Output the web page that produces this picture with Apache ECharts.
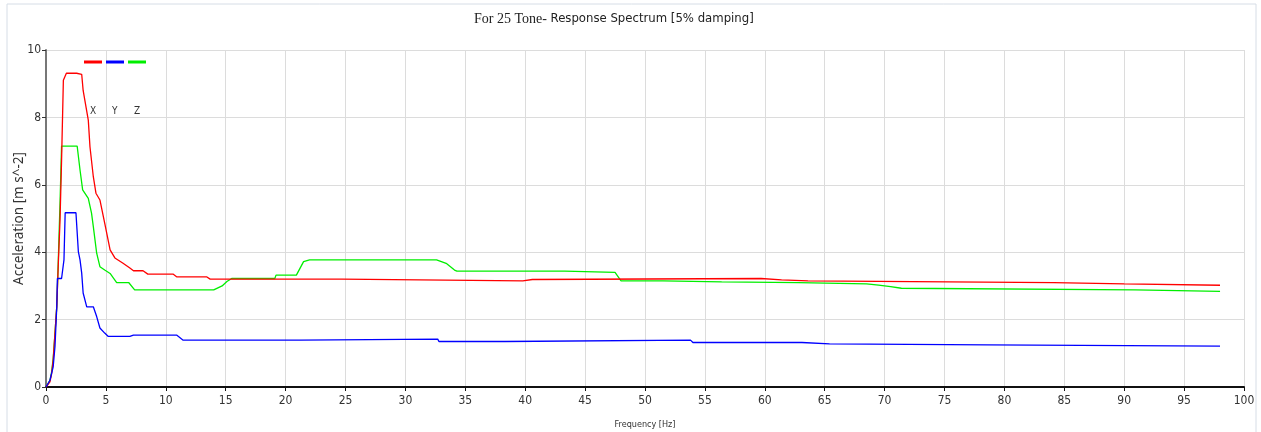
<!DOCTYPE html>
<html>
<head>
<meta charset="utf-8">
<script src="https://cdn.jsdelivr.net/npm/echarts@6/dist/echarts.min.js"></script>
<style>html,body{margin:0;padding:0;background:#fff}#c{width:1261px;height:432px}</style>
</head>
<body>
<div id="c"></div>
<script>
var titleText = 'For 25 Tone- Response Spectrum [5% damping]';
var seriesNames = ['X', 'Y', 'Z'];
var xTicks = [0,5,10,15,20,25,30,35,40,45,50,55,60,65,70,75,80,85,90,95,100];

var freqX = [0,0.33,0.47,0.6,0.75,0.9,1.03,1.17,1.3,1.45,1.7,2.56,2.6,2.98,3.1,3.53,3.67,3.95,4.17,4.5,4.9,5.35,5.75,6.4,7.0,7.3,8.1,8.5,10.6,10.9,13.4,13.7,24.7,24.8,39.8,39.9,40.6,40.7,59.7,59.8,61.4,61.5,63.6,63.7,84.1,84.2,90.0,90.1,98.0];
var accX  = [0,0.15,0.4,0.8,1.6,2.4,3.67,4.95,6.74,9.1,9.31,9.31,9.28,9.28,8.8,7.92,7.13,6.24,5.75,5.55,4.86,4.07,3.83,3.68,3.53,3.45,3.45,3.35,3.35,3.27,3.27,3.2,3.2,3.15,3.15,3.19,3.19,3.22,3.22,3.18,3.18,3.15,3.15,3.1,3.1,3.06,3.06,3.02,3.02];

var freqY = [0,0.05,0.33,0.6,0.75,0.9,0.95,1.3,1.5,1.6,2.5,2.7,2.84,2.98,3.1,3.4,3.95,4.23,4.5,4.9,5.2,7.0,7.3,10.9,11.45,21.2,21.3,32.7,32.8,38.3,38.4,53.8,54.0,63.1,63.2,65.4,65.5,78.6,78.7,98.0];
var accY  = [0,0,0.2,0.6,1.2,2.38,3.22,3.22,3.77,5.17,5.17,4.02,3.77,3.38,2.79,2.38,2.38,2.09,1.75,1.6,1.5,1.5,1.54,1.54,1.39,1.39,1.42,1.42,1.35,1.35,1.39,1.39,1.32,1.32,1.28,1.28,1.25,1.25,1.21,1.21];

var freqZ = [0,0.33,0.47,0.6,0.75,0.9,1.03,1.17,1.3,2.6,2.84,3.06,3.53,3.8,3.95,4.23,4.5,4.9,5.35,5.9,6.9,7.4,14.0,14.7,15.1,15.5,19.1,19.2,20.9,21.5,22.0,32.6,33.4,34.1,34.3,43.3,43.4,47.5,48.0,51.5,51.6,56.4,56.5,62.8,62.9,68.5,68.6,69.5,69.6,70.5,70.6,71.4,71.5,90.9,91.0,98.0];
var accZ  = [0,0.2,0.45,0.85,1.6,2.4,3.8,5.45,7.15,7.15,6.44,5.85,5.6,5.16,4.76,3.97,3.57,3.47,3.37,3.1,3.1,2.88,2.88,3.0,3.13,3.22,3.22,3.32,3.32,3.72,3.77,3.77,3.67,3.47,3.44,3.44,3.4,3.4,3.15,3.15,3.12,3.12,3.1,3.1,3.06,3.06,3.02,3.02,2.98,2.98,2.93,2.93,2.88,2.88,2.84,2.84];

function zip(a, b) { return a.map(function (v, i) { return [v, b[i]]; }); }

var colors = ['#ff0000', '#0000ff', '#00ee00'];
var sansCond = '"DejaVu Sans Condensed", "DejaVu Sans", sans-serif';

var chart = echarts.init(document.getElementById('c'), null, {renderer: 'canvas'});
chart.setOption({
  animation: false,
  backgroundColor: '#ffffff',
  title: {
    text: '{a|For 25 Tone-}{b| Response Spectrum [5% damping]}',
    left: 469, top: 7,
    textStyle: {
      fontWeight: 'normal',
      rich: {
        a: {fontFamily: '"Liberation Serif", serif', fontSize: 14, fontWeight: 'normal', color: '#222'},
        b: {fontFamily: sansCond, fontSize: 13, fontWeight: 'normal', color: '#222'}
      }
    }
  },
  legend: {
    left: 84, top: 60.5, padding: 0,
    icon: 'rect', itemWidth: 18, itemHeight: 3, itemGap: 4,
    data: seriesNames,
    formatter: function () { return ''; },
    textStyle: {fontSize: 1}
  },
  graphic: [
    {type: 'rect', shape: {x: 7, y: 4, width: 1249, height: 440}, style: {fill: 'none', stroke: '#d6dde6', lineWidth: 1}, silent: true, z: -10},
    {type: 'text', left: 90, top: 106, style: {text: seriesNames[0], font: '10px ' + sansCond, fill: '#333'}},
    {type: 'text', left: 112, top: 106, style: {text: seriesNames[1], font: '10px ' + sansCond, fill: '#333'}},
    {type: 'text', left: 134, top: 106, style: {text: seriesNames[2], font: '10px ' + sansCond, fill: '#333'}}
  ],
  grid: {left: 46, right: 17, top: 50, bottom: 45, containLabel: false, outerBoundsMode: 'none'},
  xAxis: {
    type: 'value', min: 0, max: 100, interval: 5,
    name: 'Frequency [Hz]', nameLocation: 'middle', nameGap: 33, nameMoveOverlap: false,
    nameTextStyle: {fontFamily: sansCond, fontSize: 9, color: '#333'},
    axisLine: {show: true, onZero: false, lineStyle: {color: '#111', width: 2}},
    axisTick: {show: true, length: 4, lineStyle: {color: '#111'}},
    axisLabel: {fontFamily: sansCond, fontSize: 12, color: '#333', margin: 8,
      formatter: function (v) { return xTicks.indexOf(v) >= 0 ? String(v) : ''; }},
    splitLine: {show: true, lineStyle: {color: '#dcdcdc', width: 1}}
  },
  yAxis: {
    type: 'value', min: 0, max: 10, interval: 2,
    name: 'Acceleration [m s^-2]', nameLocation: 'middle', nameGap: 20, nameRotate: 90, nameMoveOverlap: false,
    nameTextStyle: {fontFamily: '"Noto Sans", sans-serif', fontSize: 13.5, color: '#333'},
    axisLine: {show: true, lineStyle: {color: '#777', width: 2}},
    axisTick: {show: true, inside: false, length: 4, lineStyle: {color: '#333'}},
    axisLabel: {fontFamily: sansCond, fontSize: 12, color: '#333', margin: 5},
    splitLine: {show: true, lineStyle: {color: '#dcdcdc', width: 1}}
  },
  series: [
    {name: seriesNames[0], type: 'line', data: zip(freqX, accX), showSymbol: false, symbol: 'none', lineStyle: {color: colors[0], width: 1.3}, itemStyle: {color: colors[0]}, z: 3},
    {name: seriesNames[1], type: 'line', data: zip(freqY, accY), showSymbol: false, symbol: 'none', lineStyle: {color: colors[1], width: 1.3}, itemStyle: {color: colors[1]}, z: 4},
    {name: seriesNames[2], type: 'line', data: zip(freqZ, accZ), showSymbol: false, symbol: 'none', lineStyle: {color: colors[2], width: 1.3}, itemStyle: {color: colors[2]}, z: 2}
  ]
});
</script>
</body>
</html>
